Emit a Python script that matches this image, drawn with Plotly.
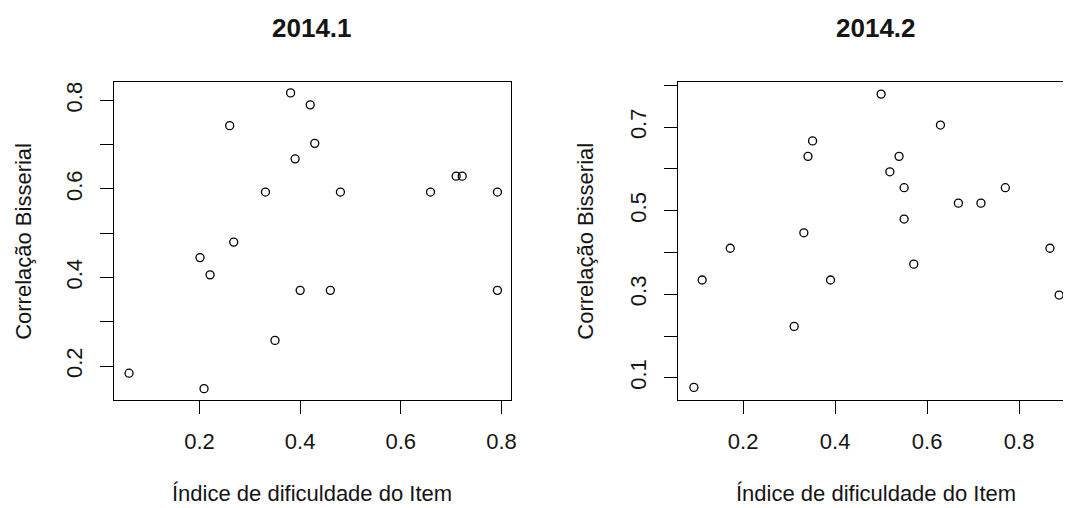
import plotly.graph_objects as go

# 2014.1 — item difficulty index vs. biserial correlation
dif_2014_1 = [0.060, 0.209, 0.201, 0.221, 0.268, 0.260, 0.331, 0.350, 0.381, 0.390,
              0.400, 0.420, 0.429, 0.460, 0.480, 0.659, 0.710, 0.722, 0.792, 0.792]
cor_2014_1 = [0.184, 0.149, 0.445, 0.406, 0.480, 0.743, 0.593, 0.258, 0.817, 0.668,
              0.371, 0.790, 0.703, 0.371, 0.593, 0.593, 0.629, 0.629, 0.593, 0.371]

# 2014.2
dif_2014_2 = [0.093, 0.111, 0.172, 0.311, 0.332, 0.341, 0.351, 0.390, 0.500, 0.519,
              0.539, 0.550, 0.550, 0.571, 0.629, 0.668, 0.717, 0.770, 0.867, 0.887]
cor_2014_2 = [0.077, 0.334, 0.410, 0.223, 0.447, 0.630, 0.667, 0.334, 0.779, 0.593,
              0.630, 0.555, 0.480, 0.372, 0.705, 0.518, 0.518, 0.555, 0.410, 0.298]

titles = ["2014.1", "2014.2"]
x_title = "Índice de dificuldade do Item"
y_title = "Correlação Bisserial"

x_ticks = [0.2, 0.4, 0.6, 0.8]
x_tick_text = ["0.2", "0.4", "0.6", "0.8"]
y_ticks_1 = [0.2, 0.3, 0.4, 0.5, 0.6, 0.7, 0.8]
y_tick_text_1 = ["0.2", "", "0.4", "", "0.6", "", "0.8"]
y_ticks_2 = [0.1, 0.2, 0.3, 0.4, 0.5, 0.6, 0.7, 0.8]
y_tick_text_2 = ["0.1", "", "0.3", "", "0.5", "", "0.7", ""]

W, H = 1069, 508
FONT = "Liberation Sans, Arial, sans-serif"
INK = "#151515"


def px_x(p):
    return p / W


def px_y(p):
    return 1 - p / H


marker = dict(symbol="circle-open", size=8, color="black", line=dict(width=1.3, color="black"))

fig = go.Figure()
fig.add_trace(go.Scatter(x=dif_2014_1, y=cor_2014_1, mode="markers", marker=marker,
                         xaxis="x", yaxis="y", showlegend=False))
fig.add_trace(go.Scatter(x=dif_2014_2, y=cor_2014_2, mode="markers", marker=marker,
                         xaxis="x2", yaxis="y2", showlegend=False))

axis_common = dict(
    showgrid=False, zeroline=False, showline=True, linecolor="black", linewidth=1.4,
    ticks="outside", ticklen=13, tickwidth=1.3, tickcolor="black",
    tickfont=dict(family=FONT, size=22, color=INK),
)

y_dom = [px_y(400), px_y(82)]

fig.update_layout(
    width=W, height=H,
    margin=dict(l=0, r=0, t=0, b=0),
    paper_bgcolor="white", plot_bgcolor="white",
    xaxis=dict(domain=[px_x(115), px_x(514)], range=[0.0308, 0.8192], anchor="y",
               tickvals=x_ticks, ticktext=x_tick_text, mirror=True,
               ticklabelstandoff=8, **axis_common),
    yaxis=dict(domain=y_dom, range=[0.1234, 0.8416], anchor="x",
               tickvals=y_ticks_1, ticktext=y_tick_text_1, mirror=True,
               tickangle=-90, ticklabelstandoff=9, **axis_common),
    xaxis2=dict(domain=[px_x(682), 1.0], range=[0.0588, 0.8954], anchor="y2",
                tickvals=x_ticks, ticktext=x_tick_text, mirror=True,
                ticklabelstandoff=8, **axis_common),
    yaxis2=dict(domain=y_dom, range=[0.0468, 0.808], anchor="x2",
                tickvals=y_ticks_2, ticktext=y_tick_text_2, mirror=False,
                tickangle=-90, ticklabelstandoff=9, **axis_common),
)

annotations = []
# panel titles and axis titles, centred on each plotting box
for cx, title in zip([314, 881], titles):
    annotations.append(dict(text=f"<b>{title}</b>", x=px_x(cx), y=px_y(28),
                            xref="paper", yref="paper", showarrow=False,
                            xanchor="center", yanchor="middle",
                            font=dict(family=FONT, size=26, color=INK)))
    annotations.append(dict(text=x_title, x=px_x(cx), y=px_y(493),
                            xref="paper", yref="paper", showarrow=False,
                            xanchor="center", yanchor="middle",
                            font=dict(family=FONT, size=22, color=INK)))
for cx in [23, 588]:
    annotations.append(dict(text=y_title, x=px_x(cx), y=px_y(241),
                            xref="paper", yref="paper", showarrow=False,
                            xanchor="center", yanchor="middle", textangle=-90,
                            font=dict(family=FONT, size=22, color=INK)))
fig.update_layout(annotations=annotations)

fig.write_html("out.html")
